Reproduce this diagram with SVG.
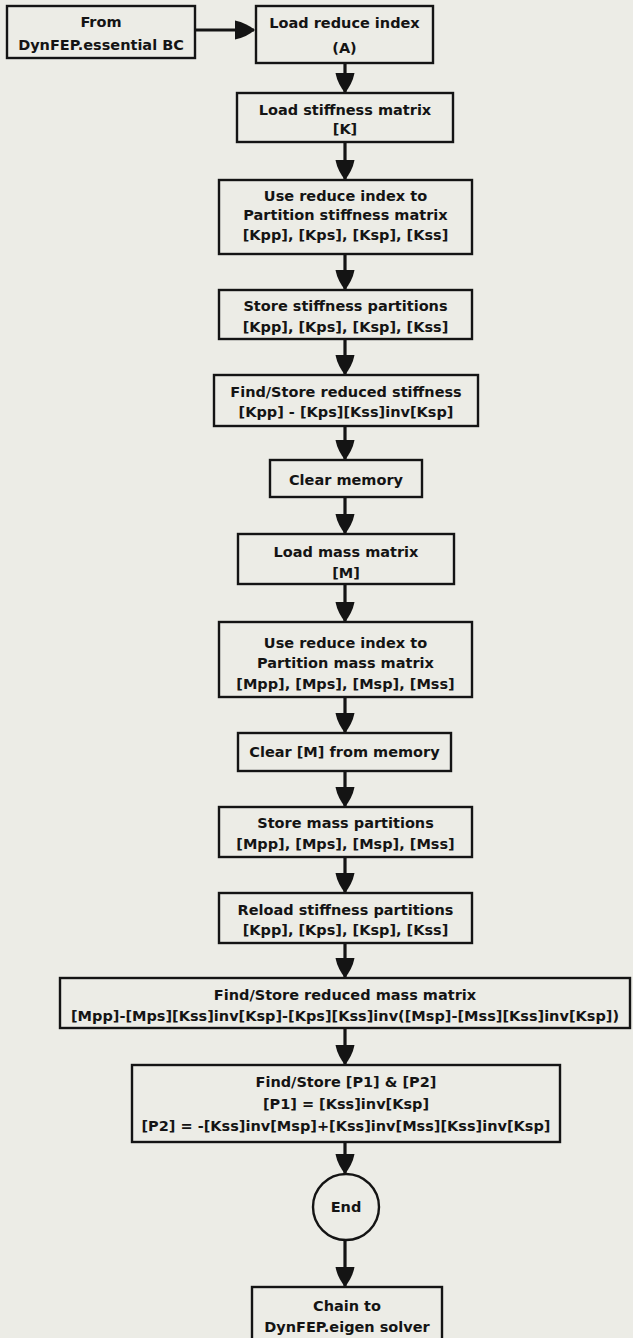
<svg xmlns="http://www.w3.org/2000/svg" width="633" height="1338" viewBox="0 0 633 1338">
  <style>
    .bg { fill: #ececE6; }
    .box { fill: none; stroke: #141414; stroke-width: 2.4; }
    .lbl { font-family: "DejaVu Sans", "Liberation Sans", sans-serif; font-weight: bold; font-size: 14.5px; fill: #141414; text-anchor: middle; }
    .wire { fill: none; stroke: #141414; stroke-width: 3.2; }
  </style>
  <defs>
    <!-- filled spade-like arrowhead shared by every connector -->
    <marker id="head" markerUnits="userSpaceOnUse" viewBox="0 0 20 20" markerWidth="20" markerHeight="20" refX="19" refY="10" orient="auto">
      <path d="M0,0.5 C8,2 14,5.5 20,10 C14,14.5 8,18 0,19.5 Z" fill="#141414"/>
    </marker>
  </defs>
  <rect class="bg" x="0" y="0" width="633" height="1338"/>

  <g id="connectors">
    <path class="wire" d="M195,30 H254" marker-end="url(#head)"/>
    <path class="wire" d="M345,63 V92" marker-end="url(#head)"/>
    <path class="wire" d="M345,142 V179" marker-end="url(#head)"/>
    <path class="wire" d="M345,254 V289" marker-end="url(#head)"/>
    <path class="wire" d="M345,339 V374" marker-end="url(#head)"/>
    <path class="wire" d="M345,426 V459" marker-end="url(#head)"/>
    <path class="wire" d="M345,497 V533" marker-end="url(#head)"/>
    <path class="wire" d="M345,584 V621" marker-end="url(#head)"/>
    <path class="wire" d="M345,697 V732" marker-end="url(#head)"/>
    <path class="wire" d="M345,771 V806" marker-end="url(#head)"/>
    <path class="wire" d="M345,857 V892" marker-end="url(#head)"/>
    <path class="wire" d="M345,943 V977" marker-end="url(#head)"/>
    <path class="wire" d="M345,1028 V1064" marker-end="url(#head)"/>
    <path class="wire" d="M345,1142 V1173" marker-end="url(#head)"/>
    <path class="wire" d="M345,1240 V1286" marker-end="url(#head)"/>
  </g>

  <g id="from-essential">
    <rect class="box" x="7" y="6" width="188" height="52"/>
    <text class="lbl" x="101" y="27">From</text>
    <text class="lbl" x="101" y="50">DynFEP.essential BC</text>
  </g>

  <g id="load-reduce-index">
    <rect class="box" x="256" y="6" width="177" height="57"/>
    <text class="lbl" x="344.5" y="28">Load reduce index</text>
    <text class="lbl" x="344.5" y="53">(A)</text>
  </g>

  <g id="load-stiffness">
    <rect class="box" x="237" y="93" width="216" height="49"/>
    <text class="lbl" x="345" y="115">Load stiffness matrix</text>
    <text class="lbl" x="345" y="134">[K]</text>
  </g>

  <g id="partition-stiffness">
    <rect class="box" x="219" y="180" width="253" height="74"/>
    <text class="lbl" x="345.5" y="201">Use reduce index to</text>
    <text class="lbl" x="345.5" y="220">Partition stiffness matrix</text>
    <text class="lbl" x="345.5" y="240">[Kpp], [Kps], [Ksp], [Kss]</text>
  </g>

  <g id="store-stiffness">
    <rect class="box" x="219" y="290" width="253" height="49"/>
    <text class="lbl" x="345.5" y="311">Store stiffness partitions</text>
    <text class="lbl" x="345.5" y="332">[Kpp], [Kps], [Ksp], [Kss]</text>
  </g>

  <g id="reduced-stiffness">
    <rect class="box" x="214" y="375" width="264" height="51"/>
    <text class="lbl" x="346" y="397">Find/Store reduced stiffness</text>
    <text class="lbl" x="346" y="417">[Kpp] - [Kps][Kss]inv[Ksp]</text>
  </g>

  <g id="clear-memory">
    <rect class="box" x="270" y="460" width="152" height="37"/>
    <text class="lbl" x="346" y="485">Clear memory</text>
  </g>

  <g id="load-mass">
    <rect class="box" x="238" y="534" width="216" height="50"/>
    <text class="lbl" x="346" y="557">Load mass matrix</text>
    <text class="lbl" x="346" y="578">[M]</text>
  </g>

  <g id="partition-mass">
    <rect class="box" x="219" y="622" width="253" height="75"/>
    <text class="lbl" x="345.5" y="648">Use reduce index to</text>
    <text class="lbl" x="345.5" y="668">Partition mass matrix</text>
    <text class="lbl" x="345.5" y="689">[Mpp], [Mps], [Msp], [Mss]</text>
  </g>

  <g id="clear-mass">
    <rect class="box" x="238" y="733" width="213" height="38"/>
    <text class="lbl" x="344.5" y="757">Clear [M] from memory</text>
  </g>

  <g id="store-mass">
    <rect class="box" x="219" y="807" width="253" height="50"/>
    <text class="lbl" x="345.5" y="828">Store mass partitions</text>
    <text class="lbl" x="345.5" y="849">[Mpp], [Mps], [Msp], [Mss]</text>
  </g>

  <g id="reload-stiffness">
    <rect class="box" x="219" y="893" width="253" height="50"/>
    <text class="lbl" x="345.5" y="915">Reload stiffness partitions</text>
    <text class="lbl" x="345.5" y="935">[Kpp], [Kps], [Ksp], [Kss]</text>
  </g>

  <g id="reduced-mass">
    <rect class="box" x="60" y="978" width="570" height="50"/>
    <text class="lbl" x="345" y="1000">Find/Store reduced mass matrix</text>
    <text class="lbl" x="345" y="1021">[Mpp]-[Mps][Kss]inv[Ksp]-[Kps][Kss]inv([Msp]-[Mss][Kss]inv[Ksp])</text>
  </g>

  <g id="p1-p2">
    <rect class="box" x="132" y="1065" width="428" height="77"/>
    <text class="lbl" x="346" y="1087">Find/Store [P1] &amp; [P2]</text>
    <text class="lbl" x="346" y="1109">[P1] = [Kss]inv[Ksp]</text>
    <text class="lbl" x="346" y="1131">[P2] = -[Kss]inv[Msp]+[Kss]inv[Mss][Kss]inv[Ksp]</text>
  </g>

  <g id="end">
    <circle class="box" cx="346" cy="1207" r="33"/>
    <text class="lbl" x="346" y="1212">End</text>
  </g>

  <g id="chain-eigen">
    <rect class="box" x="252" y="1287" width="190" height="54"/>
    <text class="lbl" x="347" y="1311">Chain to</text>
    <text class="lbl" x="347" y="1332">DynFEP.eigen solver</text>
  </g>
</svg>
